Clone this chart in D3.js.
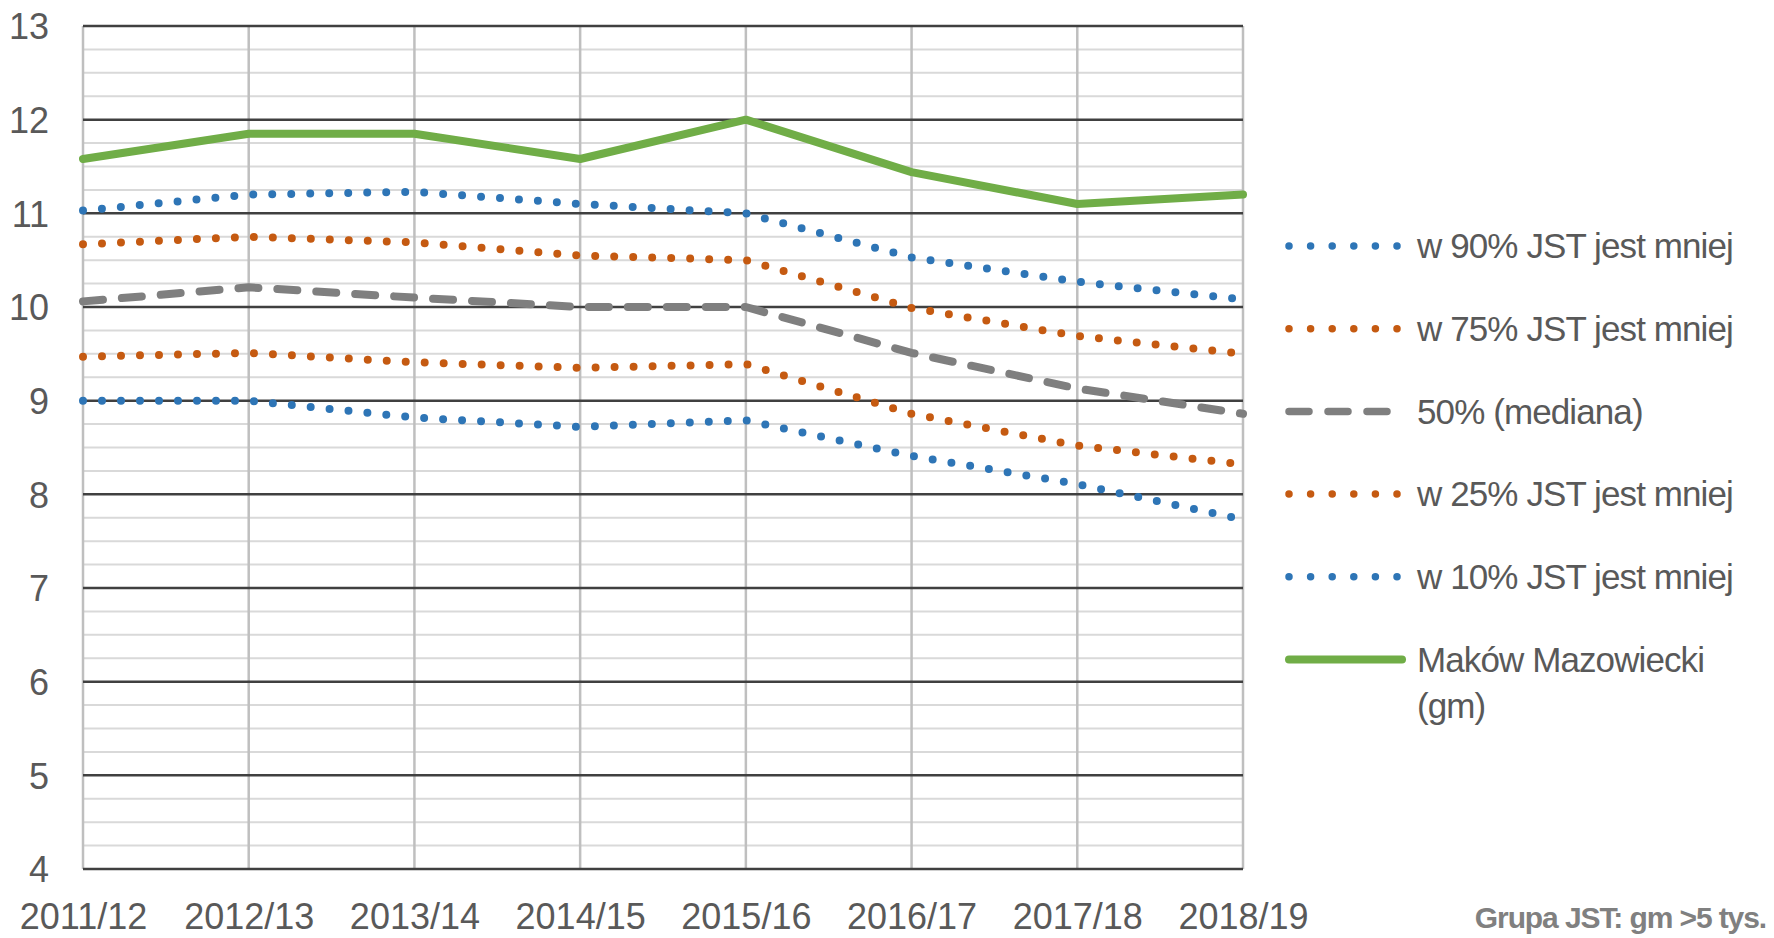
<!DOCTYPE html>
<html>
<head>
<meta charset="utf-8">
<script src="https://cdn.jsdelivr.net/npm/d3@7"></script>
<style>
  body { margin: 0; background: #fff; }
  svg text { font-family: "Liberation Sans", Arial, sans-serif; fill: #595959; }
</style>
</head>
<body>
<div id="chart"></div>
<script>
const categories = ["2011/12", "2012/13", "2013/14", "2014/15", "2015/16", "2016/17", "2017/18", "2018/19"];
const yTicks = [4, 5, 6, 7, 8, 9, 10, 11, 12, 13];

const p90 = [11.03, 11.2, 11.23, 11.1, 11.0, 10.53, 10.27, 10.08];
const p75 = [10.67, 10.75, 10.69, 10.55, 10.5, 9.99, 9.69, 9.5];
const p50 = [10.06, 10.21, 10.1, 10.0, 10.0, 9.51, 9.13, 8.86];
const p25 = [9.47, 9.51, 9.41, 9.35, 9.39, 8.86, 8.52, 8.32];
const p10 = [9.0, 9.0, 8.82, 8.72, 8.79, 8.41, 8.11, 7.73];
const makow = [11.58, 11.85, 11.85, 11.58, 12.0, 11.44, 11.1, 11.2];

const series = [
  { name: ["w 90% JST jest mniej"], values: p90, color: "#2e75b6", style: "dot" },
  { name: ["w 75% JST jest mniej"], values: p75, color: "#c55a11", style: "dot" },
  { name: ["50% (mediana)"], values: p50, color: "#7f7f7f", style: "dash" },
  { name: ["w 25% JST jest mniej"], values: p25, color: "#c55a11", style: "dot" },
  { name: ["w 10% JST jest mniej"], values: p10, color: "#2e75b6", style: "dot" },
  { name: ["Maków Mazowiecki", "(gm)"], values: makow, color: "#70ad47", style: "solid" },
];

const width = 1774;
const height = 938;

const dashes = { dot: "0 19", dash: "20 19", solid: null };

const svg = d3
  .select("#chart")
  .append("svg")
  .attr("width", width)
  .attr("height", height);

const x = d3.scalePoint().domain(categories).range([83, 1243]);
const y = d3.scaleLinear().domain([4, 13]).range([869, 26]);

// minor grid every 0.25
const minor = d3.range(4, 13.01, 0.25).filter((v) => Math.abs(v - Math.round(v)) > 0.01);
svg
  .append("g")
  .selectAll("line")
  .data(minor)
  .enter()
  .append("line")
  .attr("x1", x.range()[0])
  .attr("x2", x.range()[1])
  .attr("y1", (d) => y(d))
  .attr("y2", (d) => y(d))
  .attr("stroke", "#d9d9d9")
  .attr("stroke-width", 2);

svg
  .append("g")
  .selectAll("line")
  .data(categories)
  .enter()
  .append("line")
  .attr("x1", (d) => x(d))
  .attr("x2", (d) => x(d))
  .attr("y1", y(13))
  .attr("y2", y(4))
  .attr("stroke", "#bfbfbf")
  .attr("stroke-width", 2.5);

svg
  .append("g")
  .selectAll("line")
  .data(yTicks)
  .enter()
  .append("line")
  .attr("x1", x.range()[0])
  .attr("x2", x.range()[1])
  .attr("y1", (d) => y(d))
  .attr("y2", (d) => y(d))
  .attr("stroke", "#404040")
  .attr("stroke-width", 2.5);

// axes labels
const yAxis = svg
  .append("g")
  .attr("transform", "translate(49,0)")
  .call(d3.axisLeft(y).tickValues(yTicks).tickSize(0).tickPadding(0));
yAxis.select(".domain").remove();
yAxis.selectAll("text").attr("font-size", 36).attr("dy", "0.36em").attr("fill", "#595959");
yAxis.attr("font-family", null);

const xAxis = svg
  .append("g")
  .attr("transform", "translate(0,903)")
  .call(d3.axisBottom(x).tickSize(0).tickPadding(0));
xAxis.select(".domain").remove();
xAxis.selectAll("text").attr("font-size", 36).attr("dy", "0.72em").attr("fill", "#595959");
xAxis.attr("font-family", null);

const line = d3
  .line()
  .x((_, i) => x(categories[i]))
  .y((d) => y(d));

svg
  .append("g")
  .selectAll("path")
  .data(series)
  .enter()
  .append("path")
  .attr("d", (d) => line(d.values))
  .attr("fill", "none")
  .attr("stroke", (d) => d.color)
  .attr("stroke-width", 8)
  .attr("stroke-linecap", "round")
  .attr("stroke-linejoin", "round")
  .attr("stroke-dasharray", (d) => dashes[d.style]);

// legend
const legend = svg
  .append("g")
  .selectAll("g")
  .data(series)
  .enter()
  .append("g")
  .attr("transform", (_, i) => `translate(1289,${246 + i * 82.7})`);

legend
  .append("line")
  .attr("x1", 0)
  .attr("x2", (d) => (d.style === "solid" ? 113 : d.style === "dash" ? 116 : 110))
  .attr("stroke", (d) => d.color)
  .attr("stroke-width", (d) => (d.style === "solid" ? 8 : 7.5))
  .attr("stroke-linecap", "round")
  .attr("stroke-dasharray", (d) => (d.style === "dot" ? "0 21.6" : d.style === "dash" ? "20 19" : null));

legend
  .append("text")
  .attr("font-size", 35)
  .attr("letter-spacing", -0.9)
  .selectAll("tspan")
  .data((d) => d.name)
  .enter()
  .append("tspan")
  .attr("x", 128)
  .attr("y", (_, i) => i * 46)
  .attr("dy", "0.35em")
  .text((d) => d);

svg
  .append("text")
  .attr("x", 1766)
  .attr("y", 928)
  .attr("text-anchor", "end")
  .attr("font-size", 30)
  .attr("font-weight", "bold")
  .attr("letter-spacing", -1.1)
  .style("fill", "#808080")
  .text("Grupa JST: gm >5 tys.");
</script>
</body>
</html>
